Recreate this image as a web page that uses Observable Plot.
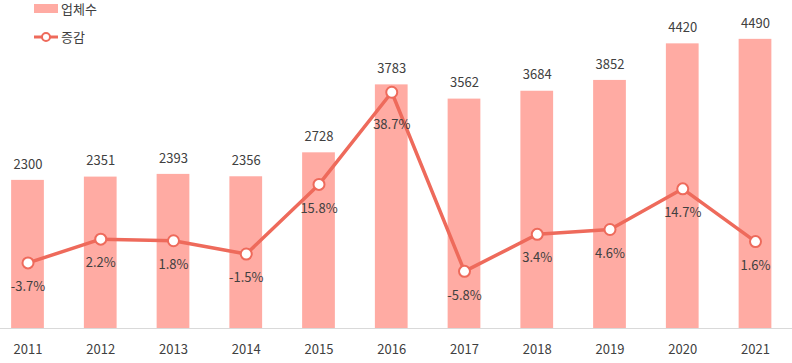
<!DOCTYPE html>
<html>
<head>
<meta charset="utf-8">
<script src="https://cdn.jsdelivr.net/npm/d3@7"></script>
<script src="https://cdn.jsdelivr.net/npm/@observablehq/plot@0.6"></script>
<style>
  body { margin: 0; background: #fff; font-family: "Noto Sans CJK KR", "Noto Sans", sans-serif; }
  #wrap { position: relative; width: 792px; height: 363px; }
  #legend { position: absolute; left: 34px; top: 0; font-size: 13px; color: #404040; }
  .item { position: absolute; left: 0; display: flex; align-items: center; white-space: nowrap; line-height: 15px; height: 15px; }
  .sw { width: 24px; height: 9px; background: #FFABA3; margin-right: 3px; }
  .ln { width: 24px; height: 14px; margin-right: 3px; }
</style>
</head>
<body>
<div id="wrap">
  <div id="chart"></div>
  <div id="legend">
    <div class="item" style="top:1px"><div class="sw"></div><span>업체수</span></div>
    <div class="item" style="top:29px"><svg class="ln" viewBox="0 0 24 14"><line x1="0" y1="7" x2="24" y2="7" stroke="#EE6A5B" stroke-width="3"/><circle cx="12" cy="7" r="4" fill="#fff" stroke="#EE6A5B" stroke-width="2"/></svg><span>증감</span></div>
  </div>
</div>
<script>
const years = ["2011","2012","2013","2014","2015","2016","2017","2018","2019","2020","2021"];
const counts = [2300, 2351, 2393, 2356, 2728, 3783, 3562, 3684, 3852, 4420, 4490];
const changes = [-3.7, 2.2, 1.8, -1.5, 15.8, 38.7, -5.8, 3.4, 4.6, 14.7, 1.6];

const barMax = 5000;
const pctMin = -20, pctMax = 60;
// secondary axis: map percent onto the bar value axis
const toBarAxis = v => (v - pctMin) / (pctMax - pctMin) * barMax;

const data = years.map((y, i) => ({year: y, count: counts[i], change: changes[i], cy: toBarAxis(changes[i])}));
const peak = d3.max(changes);

const barColor = "#FFABA3";
const lineColor = "#EE6A5B";
const textColor = "#404040";
const pctText = d => d.change.toFixed(1) + "%";

const chart = Plot.plot({
  width: 792,
  height: 363,
  marginTop: 6,
  marginBottom: 35,
  marginLeft: 0,
  marginRight: 9.5,
  style: {fontFamily: '"Noto Sans CJK KR", "Noto Sans", sans-serif', fontSize: "13px", color: textColor, background: "transparent"},
  x: {domain: years, paddingInner: 0.55, paddingOuter: 0.153, round: false, label: null},
  y: {domain: [0, barMax], axis: null},
  marks: [
    Plot.barY(data, {x: "year", y: "count", fill: barColor}),
    Plot.text(data, {x: "year", y: "count", text: d => String(d.count), dy: -16, fill: textColor, fontSize: 13}),
    Plot.line(data, {x: "year", y: "cy", stroke: lineColor, strokeWidth: 3.5}),
    Plot.dot(data, {x: "year", y: "cy", r: 5.5, fill: "#fff", stroke: lineColor, strokeWidth: 2}),
    Plot.text(data.filter(d => d.change !== peak), {x: "year", y: "cy", text: pctText, dy: 24, fill: textColor, fontSize: 13}),
    Plot.text(data.filter(d => d.change === peak), {x: "year", y: "cy", text: pctText, dy: 33, fill: textColor, fontSize: 13}),
    Plot.axisX({tickSize: 0, tickPadding: 16, fontSize: 13, fill: textColor, label: null}),
    Plot.ruleY([0], {stroke: "#d9d9d9", strokeWidth: 1, insetRight: -10})
  ]
});
document.getElementById("chart").appendChild(chart);
</script>
</body>
</html>
